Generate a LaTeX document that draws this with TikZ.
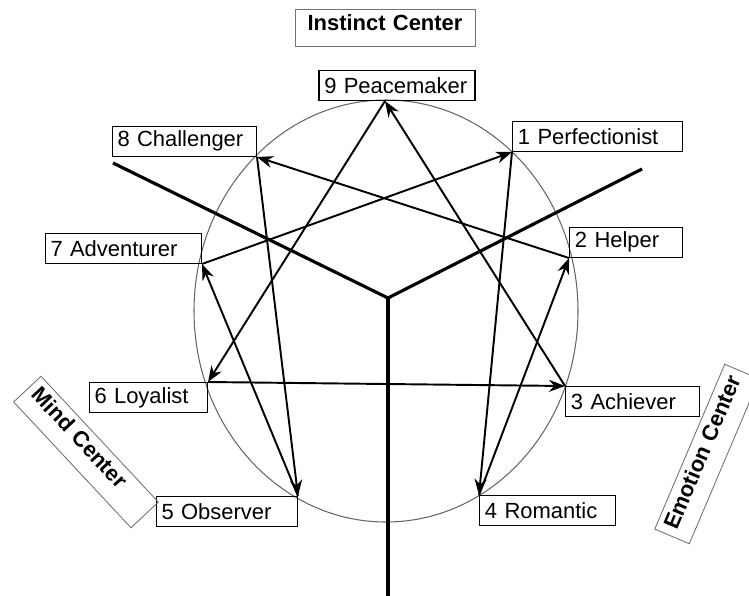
\documentclass[tikz,border=0pt]{standalone}
\usepackage{fontspec}
\setmainfont{Liberation Sans}
\usetikzlibrary{arrows.meta}
\tikzset{
	persona/.style={draw, line width=0.8pt, align=left, inner xsep=3pt, inner ysep=2pt, minimum height=6mm, font=\fontsize{12.5}{14}\selectfont},
	centre/.style={draw=black!55, line width=0.5pt, inner xsep=4pt, inner ysep=2pt, text height=3.5mm, text depth=2.6mm, font=\fontsize{12.5}{14}\selectfont\bfseries},
	link/.style={-{Stealth[length=3.2mm, width=2.4mm]}, line width=1.1pt},
	axis/.style={line width=1.8pt},
	ring/.style={draw=black!60, line width=0.6pt}
}
\begin{document}
\begin{tikzpicture}[x=0.02cm, y=-0.02cm]
	\useasboundingbox (0,0) rectangle (749,595);
	\draw[ring] (386,311) ellipse [x radius=192, y radius=211];
	\coordinate (p9) at (385,101);
	\coordinate (p1) at (512,152);
	\coordinate (p2) at (569,258);
	\coordinate (p3) at (565,386);
	\coordinate (p4) at (479,495);
	\coordinate (p5) at (298,496);
	\coordinate (p6) at (208,382);
	\coordinate (p7) at (202,264);
	\coordinate (p8) at (257,157);
	\coordinate (hub) at (388,298);
	\coordinate (armL) at (113,163);
	\coordinate (armR) at (642,169);
	\coordinate (armD) at (388,600);
	\draw[axis] (hub) -- (armL);
	\draw[axis] (hub) -- (armR);
	\draw[axis] (hub) -- (armD);
	\foreach \a/\b in {1/4,4/2,2/8,8/5,5/7,7/1,9/6,6/3,3/9}
		\draw[link] (p\a) -- (p\b);
	\node[persona, text width=2.91cm, anchor=south, xshift=0.24cm] (n9) at (p9) {9 Peacemaker};
	\node[persona, text width=3.19cm, anchor=south west] (n1) at (p1) {1 Perfectionist};
	\node[persona, text width=2.05cm, anchor=south west] (n2) at (p2) {2 Helper};
	\node[persona, text width=2.47cm, anchor=north west] (n3) at (p3) {3 Achiever};
	\node[persona, text width=2.51cm, anchor=north west] (n4) at (p4) {4 Romantic};
	\node[persona, text width=2.61cm, anchor=north east] (n5) at (p5) {5 Observer};
	\node[persona, text width=2.15cm, anchor=north east] (n6) at (p6) {6 Loyalist};
	\node[persona, text width=2.91cm, anchor=south east] (n7) at (p7) {7 Adventurer};
	\node[persona, text width=2.67cm, anchor=south east] (n8) at (p8) {8 Challenger};
	\node[centre, text width=3.32cm, align=center] (instinct) at (385,28) {Instinct Center};
	\node[centre, text width=3.16cm, align=left, rotate=-47] (mind) at (86,452) {Mind Center};
	\node[centre, text width=3.3cm, align=left, rotate=67] (emotion) at (707,454) {Emotion Center};
\end{tikzpicture}
\end{document}
